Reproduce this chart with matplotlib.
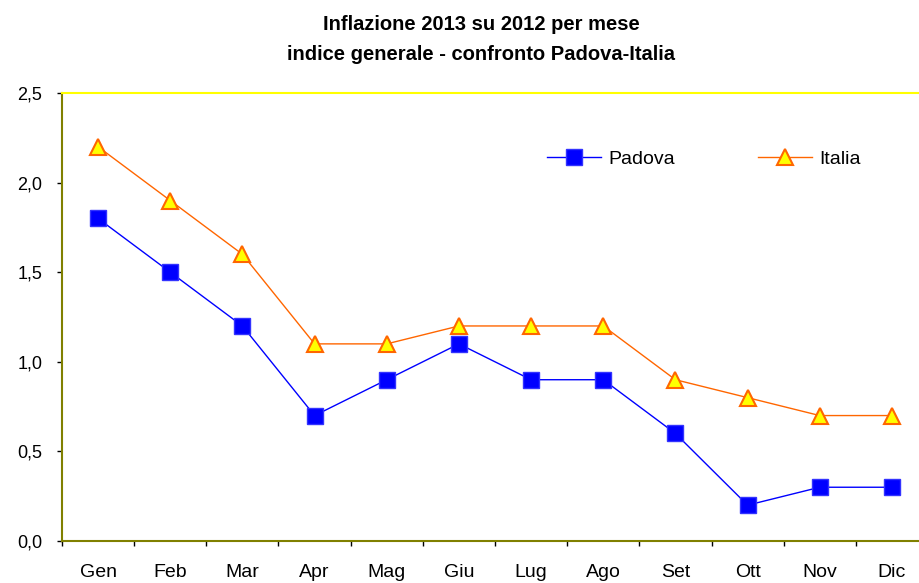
import matplotlib.pyplot as plt
from matplotlib.ticker import FuncFormatter

plt.rcParams['font.family'] = ['Liberation Sans', 'DejaVu Sans']

mesi = ['Gen', 'Feb', 'Mar', 'Apr', 'Mag', 'Giu', 'Lug', 'Ago', 'Set', 'Ott', 'Nov', 'Dic']
padova = [1.8, 1.5, 1.2, 0.7, 0.9, 1.1, 0.9, 0.9, 0.6, 0.2, 0.3, 0.3]
italia = [2.2, 1.9, 1.6, 1.1, 1.1, 1.2, 1.2, 1.2, 0.9, 0.8, 0.7, 0.7]

fig = plt.figure(figsize=(9.2, 5.83), dpi=100)
ax = fig.add_axes([62 / 920, 42 / 583, 866 / 920, 448 / 583])

x = range(len(mesi))
ax.plot(x, padova, color='#0000FF', lw=1, marker='s', markersize=11.5,
        markerfacecolor='#0000FF', markeredgecolor='#3333FF', label='Padova')
ax.plot(x, italia, color='#FF6600', lw=1, marker='^', markersize=11.5,
        markerfacecolor='#FFFF00', markeredgecolor='#FF6600', markeredgewidth=1.5,
        label='Italia')

ax.set_xlim(-0.5, 11.5)
ax.set_ylim(0, 2.5)
ax.set_yticks([0, 0.5, 1.0, 1.5, 2.0, 2.5])
ax.yaxis.set_major_formatter(FuncFormatter(lambda v, p: f'{v:.1f}'.replace('.', ',')))
ax.set_xticks(list(x))
ax.set_xticklabels(mesi)
ax.set_xticks([i - 0.5 for i in range(13)], minor=True)
ax.tick_params(axis='x', which='major', length=0, pad=16.5, labelsize=14)
ax.tick_params(axis='x', which='minor', length=3.6, width=1, color='black')
ax.tick_params(axis='y', length=3.6, width=1, color='black', labelsize=13, pad=10.5)

for s in ['left', 'bottom']:
    ax.spines[s].set_color('#808000')
    ax.spines[s].set_linewidth(1.5)
ax.spines['right'].set_visible(False)
ax.spines['top'].set_color('#FFFF00')
ax.spines['top'].set_linewidth(1.5)

ax.legend(ncol=2, frameon=False, loc='center left', bbox_to_anchor=(0.56, 0.853),
          borderaxespad=0, borderpad=0, handlelength=2.8, columnspacing=4.25,
          fontsize=14, handletextpad=0.36)

fig.text(0.523, 0.958, 'Inflazione 2013 su 2012 per mese', ha='center', va='center',
         fontsize=14.5, fontweight='bold')
fig.text(0.523, 0.906, 'indice generale - confronto Padova-Italia', ha='center', va='center',
         fontsize=14.5, fontweight='bold')

fig.savefig('out.png', dpi=100)
